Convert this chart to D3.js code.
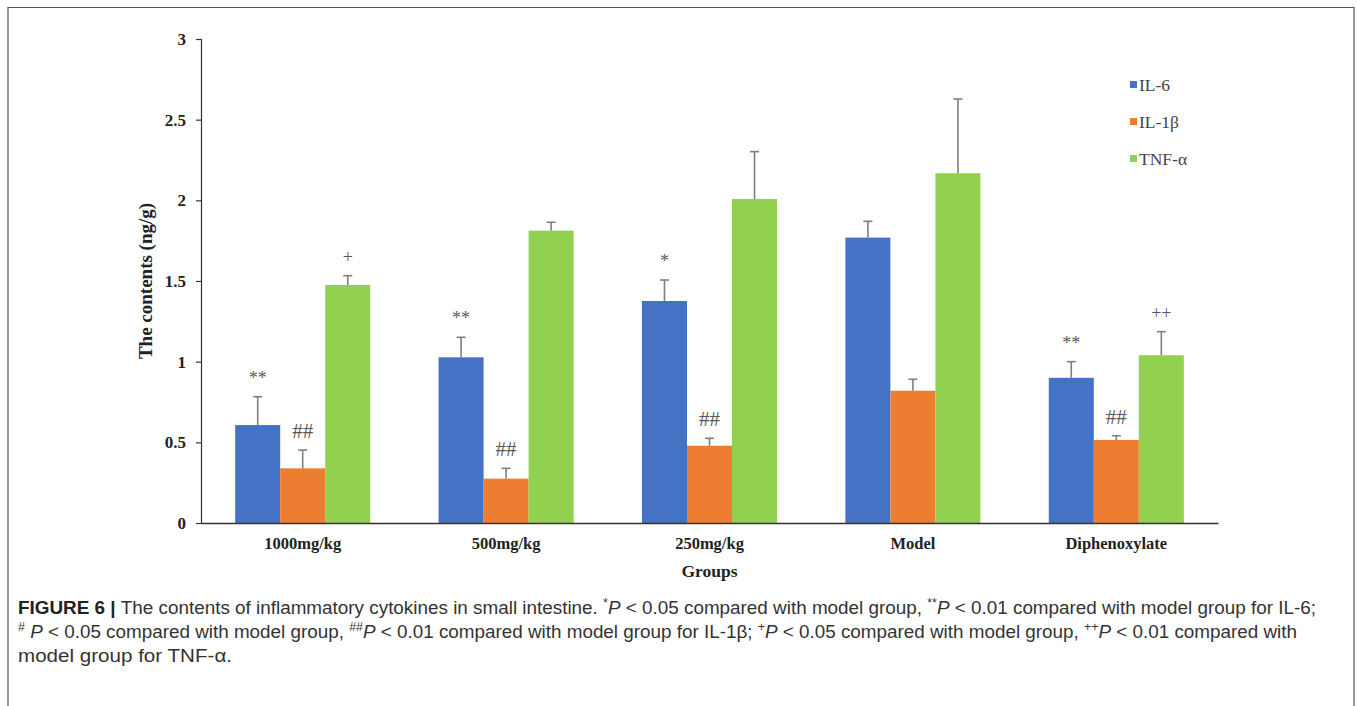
<!DOCTYPE html>
<html>
<head>
<meta charset="utf-8">
<script src="https://cdn.jsdelivr.net/npm/d3@7"></script>
<style>
  body { margin: 0; background: #fff; }
  svg { display: block; }
</style>
</head>
<body>
<div id="chart"></div>
<script>
// data
const groups = ["1000mg/kg", "500mg/kg", "250mg/kg", "Model", "Diphenoxylate"];
const seriesNames = ["IL-6", "IL-1β", "TNF-α"];
const il6 = [0.607, 1.027, 1.376, 1.769, 0.900];
const il6Err = [0.176, 0.124, 0.130, 0.101, 0.100];
const il1b = [0.339, 0.275, 0.479, 0.820, 0.515];
const il1bErr = [0.113, 0.064, 0.046, 0.071, 0.026];
const tnf = [1.475, 1.812, 2.008, 2.168, 1.040];
const tnfErr = [0.058, 0.052, 0.294, 0.460, 0.146];
const il6Marks = ["**", "**", "*", "", "**"];
const il1bMarks = ["##", "##", "##", "", "##"];
const tnfMarks = ["+", "", "", "", "++"];
const yTicks = [0, 0.5, 1, 1.5, 2, 2.5, 3];

const colors = ["#4472C4", "#ED7D31", "#92D050"];

const width = 1357, height = 706;
const margin = { top: 39, right: 139, bottom: 183, left: 201 };

const svg = d3.select("#chart").append("svg")
  .attr("width", width)
  .attr("height", height);

// figure frame
svg.append("path")
  .attr("d", "M8,712 V7.5 H1354 V712")
  .attr("fill", "none")
  .attr("stroke", "#555")
  .attr("stroke-width", 1.2);

const x0 = d3.scaleBand()
  .domain(groups)
  .range([margin.left, width - margin.right])
  .paddingInner(0.336)
  .paddingOuter(0.168);

const x1 = d3.scaleBand()
  .domain(seriesNames)
  .range([0, x0.bandwidth()]);

const y = d3.scaleLinear()
  .domain([0, 3])
  .range([height - margin.bottom, margin.top]);

const table = groups.map((g, i) => ({
  group: g,
  values: [
    { key: seriesNames[0], v: il6[i], e: il6Err[i], m: il6Marks[i], c: colors[0] },
    { key: seriesNames[1], v: il1b[i], e: il1bErr[i], m: il1bMarks[i], c: colors[1] },
    { key: seriesNames[2], v: tnf[i], e: tnfErr[i], m: tnfMarks[i], c: colors[2] }
  ]
}));

const groupG = svg.append("g").selectAll("g")
  .data(table)
  .join("g")
  .attr("transform", d => "translate(" + x0(d.group) + ",0)");

// bars
groupG.selectAll("rect")
  .data(d => d.values)
  .join("rect")
  .attr("x", d => x1(d.key))
  .attr("width", x1.bandwidth())
  .attr("y", d => y(d.v))
  .attr("height", d => y(0) - y(d.v))
  .attr("fill", d => d.c);

// error bars (upper only)
const err = groupG.selectAll("g.err")
  .data(d => d.values)
  .join("g")
  .attr("class", "err")
  .attr("stroke", "#7f7f7f")
  .attr("stroke-width", 1.6);

err.append("line")
  .attr("x1", d => x1(d.key) + x1.bandwidth() / 2)
  .attr("x2", d => x1(d.key) + x1.bandwidth() / 2)
  .attr("y1", d => y(d.v))
  .attr("y2", d => y(d.v + d.e));

err.append("line")
  .attr("x1", d => x1(d.key) + x1.bandwidth() / 2 - 4.5)
  .attr("x2", d => x1(d.key) + x1.bandwidth() / 2 + 4.5)
  .attr("y1", d => y(d.v + d.e))
  .attr("y2", d => y(d.v + d.e));

// significance marks
groupG.selectAll("text.mark")
  .data(d => d.values.filter(v => v.m))
  .join("text")
  .attr("class", "mark")
  .attr("x", d => x1(d.key) + x1.bandwidth() / 2)
  .attr("y", d => y(d.v + d.e) - (d.m[0] === "#" ? 12 : 13))
  .attr("text-anchor", "middle")
  .attr("font-family", "Liberation Serif, serif")
  .attr("font-size", d => d.m[0] === "#" ? 21 : 18)
  .attr("fill", "#595959")
  .text(d => d.m);

// y axis
const yAxis = svg.append("g")
  .attr("transform", "translate(" + margin.left + ",0)")
  .call(d3.axisLeft(y).tickValues(yTicks).tickSize(5).tickPadding(10).tickFormat(d3.format("")));
yAxis.select(".domain").attr("stroke", "#333").attr("stroke-width", 1.2);
yAxis.selectAll(".tick line").attr("stroke", "#333").attr("stroke-width", 1.2);
yAxis.selectAll(".tick text")
  .attr("font-family", "Liberation Serif, serif")
  .attr("font-size", 17)
  .attr("font-weight", "bold")
  .attr("fill", "#222");

// x axis
const xAxis = svg.append("g")
  .attr("transform", "translate(0," + y(0) + ")")
  .call(d3.axisBottom(x0).tickSize(0).tickPadding(14));
xAxis.select(".domain").attr("stroke", "#333").attr("stroke-width", 1.4);
xAxis.selectAll(".tick text")
  .attr("font-family", "Liberation Serif, serif")
  .attr("font-size", 16.5)
  .attr("font-weight", "bold")
  .attr("fill", "#222");

// axis titles
svg.append("text")
  .attr("x", (margin.left + width - margin.right) / 2)
  .attr("y", 577)
  .attr("text-anchor", "middle")
  .attr("font-family", "Liberation Serif, serif")
  .attr("font-size", 17.5)
  .attr("font-weight", "bold")
  .attr("fill", "#222")
  .text("Groups");

svg.append("text")
  .attr("transform", "translate(152," + y(1.5) + ") rotate(-90)")
  .attr("text-anchor", "middle")
  .attr("font-family", "Liberation Serif, serif")
  .attr("font-size", 19)
  .attr("font-weight", "bold")
  .attr("fill", "#222")
  .text("The contents (ng/g)");

// legend
const legend = svg.append("g")
  .attr("transform", "translate(1130,85)")
  .selectAll("g")
  .data(seriesNames)
  .join("g")
  .attr("transform", (d, i) => "translate(0," + i * 37 + ")");
legend.append("rect")
  .attr("x", 0).attr("y", -4)
  .attr("width", 7).attr("height", 7)
  .attr("fill", (d, i) => colors[i]);
legend.append("text")
  .attr("x", 9).attr("y", 6)
  .attr("font-family", "Liberation Serif, serif")
  .attr("font-size", 17.5)
  .attr("fill", "#444")
  .text(d => d);

// caption
function line(parts, yy, len) {
  const t = svg.append("text")
    .attr("x", 18).attr("y", yy)
    .attr("font-family", "Liberation Sans, Arial, sans-serif")
    .attr("font-size", 18.3)
    .attr("fill", "#333");
  if (len) t.attr("textLength", len).attr("lengthAdjust", "spacingAndGlyphs");
  parts.forEach(p => {
    const s = t.append("tspan").text(p.t);
    if (p.b) s.attr("font-weight", "bold").attr("fill", "#222");
    if (p.i) s.attr("font-style", "italic");
    if (p.sup) s.attr("font-size", 12).attr("baseline-shift", "super");
  });
}

line([
  { t: "FIGURE 6", b: true }, { t: " | ", b: true },
  { t: "The contents of inflammatory cytokines in small intestine. " },
  { t: "*", sup: true }, { t: "P", i: true }, { t: " < 0.05 compared with model group, " },
  { t: "**", sup: true }, { t: "P", i: true }, { t: " < 0.01 compared with model group for IL-6;" }
], 614, 1298);
line([
  { t: "#", sup: true }, { t: " " }, { t: "P", i: true }, { t: " < 0.05 compared with model group, " },
  { t: "##", sup: true }, { t: "P", i: true }, { t: " < 0.01 compared with model group for IL-1β; " },
  { t: "+", sup: true }, { t: "P", i: true }, { t: " < 0.05 compared with model group, " },
  { t: "++", sup: true }, { t: "P", i: true }, { t: " < 0.01 compared with" }
], 638, 1279);
line([{ t: "model group for TNF-α." }], 662, 214);
</script>
</body>
</html>
